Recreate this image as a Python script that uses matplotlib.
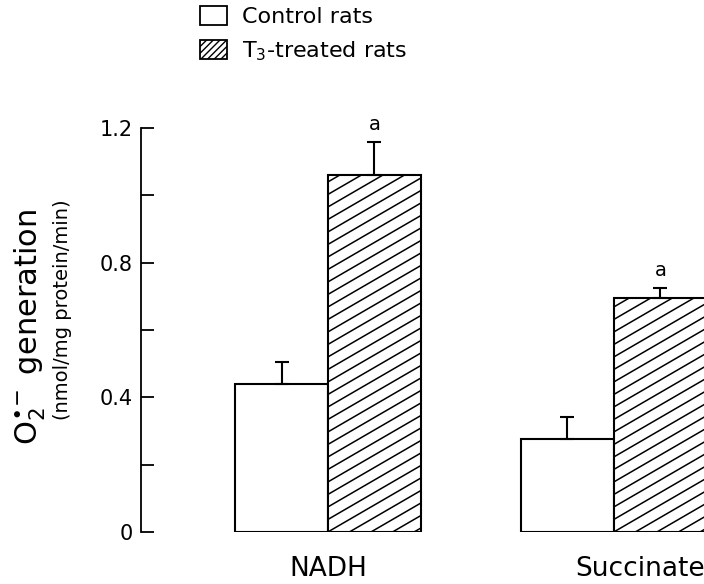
import matplotlib
matplotlib.use("Agg")
import matplotlib.pyplot as plt
from matplotlib.patches import Patch
import numpy as np

# data
substrates = ["NADH", "Succinate"]
control_mean = [0.44, 0.275]
control_err = [0.065, 0.066]
t3_mean = [1.06, 0.695]
t3_err = [0.097, 0.03]
t3_marks = ["a", "a"]
legend_labels = ["Control rats", r"T$_{\mathregular{3}}$-treated rats"]
yticks = [0, 0.4, 0.8, 1.2]
ytick_labels = ["0", "0.4", "0.8", "1.2"]
yminor = [0.2, 0.6, 1.0]

plt.rcParams['font.family'] = ['DejaVu Sans']

fig = plt.figure(figsize=(7.04, 5.84), dpi=100)
ax = fig.add_axes([141 / 704, 52 / 584, 1 - 141 / 704, 404 / 584])

x = np.arange(len(substrates))
w = 0.325
ax.set_xlim(-0.654, 1.315)
ax.set_ylim(0, 1.2)

ctrl_bars = ax.bar(x - w / 2, control_mean, w, color='white', edgecolor='black', linewidth=1.5)
t3_bars = ax.bar(x + w / 2, t3_mean, w, color='white', edgecolor='black', linewidth=1.5)

ax.errorbar(x - w / 2, control_mean, yerr=[np.zeros(len(x)), control_err], fmt='none',
            ecolor='black', elinewidth=1.5, capsize=4.8, capthick=1.5, zorder=3)
ax.errorbar(x + w / 2, t3_mean, yerr=[np.zeros(len(x)), t3_err], fmt='none',
            ecolor='black', elinewidth=1.5, capsize=4.8, capthick=1.5, zorder=3)

for xi, m, e, s in zip(x + w / 2, t3_mean, t3_err, t3_marks):
    ax.text(xi, m + e + 0.025, s, ha='center', va='bottom', fontsize=14)


def add_hatch(ax, bar, step=12.5, slope=0.58):
    # shallow diagonal hatching, clipped to the bar
    x0, y0, bw, bh = bar.get_bbox().bounds
    px0, py0 = ax.transData.transform((x0, y0))
    px1, py1 = ax.transData.transform((x0 + bw, y0 + bh))
    inv = ax.transData.inverted()
    span = px1 - px0
    for s in np.arange(py0 - slope * span + 4, py1, step):
        pts = inv.transform([(px0, s), (px1, s + slope * span)])
        ln, = ax.plot(pts[:, 0], pts[:, 1], color='black', lw=1.1, zorder=2)
        ln.set_clip_path(bar)


for b in t3_bars:
    add_hatch(ax, b)

for sp in ['top', 'right', 'bottom']:
    ax.spines[sp].set_visible(False)
ax.spines['left'].set_linewidth(1.3)

ax.set_yticks(yticks)
ax.set_yticklabels(ytick_labels, fontsize=15)
ax.set_yticks(yminor, minor=True)
ax.tick_params(axis='y', which='both', direction='in', length=9, width=1.3, pad=6)

ax.set_xticks(x + np.array([0, 0.09]))
ax.set_xticklabels(substrates, fontsize=19)
ax.tick_params(axis='x', length=0, pad=17)

fig.text(30 / 704, 1 - 327 / 584, r"O$_{2}^{\bullet\!-}$ generation",
         rotation=90, ha='center', va='center', fontsize=22)
fig.text(62 / 704, 1 - 310 / 584, "(nmol/mg protein/min)",
         rotation=90, ha='center', va='center', fontsize=14)

handles = [Patch(facecolor='white', edgecolor='black', linewidth=1.3),
           Patch(facecolor='white', edgecolor='black', linewidth=1.3, hatch='/////')]
fig.legend(handles, legend_labels, loc='upper left', bbox_to_anchor=(200 / 704, 1 - 6 / 584),
           frameon=False, fontsize=16, handlelength=1.2, handleheight=0.95,
           handletextpad=0.7, labelspacing=0.55, borderpad=0, borderaxespad=0)

fig.savefig("out.png", dpi=100)
